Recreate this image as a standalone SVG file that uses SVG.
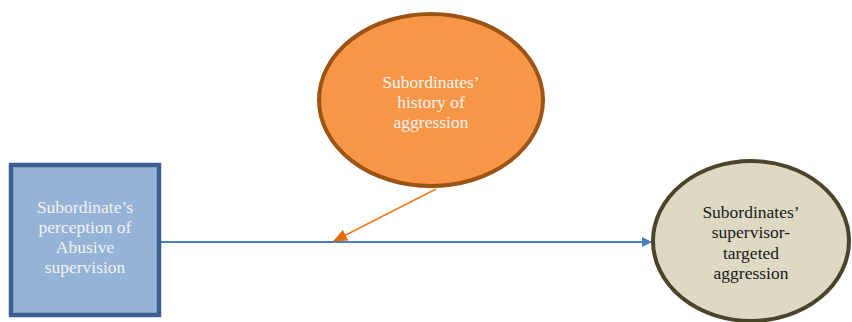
<svg xmlns="http://www.w3.org/2000/svg" width="852" height="322" viewBox="0 0 852 322">
<style>
  text { font-family: "Liberation Serif", "Times New Roman", serif; font-size: 17.5px; text-anchor: middle; }
  .light { fill: #f2f2f2; }
  .dark { fill: #1a1a1a; }
</style>
<defs>
  <marker id="blueArrow" markerWidth="10" markerHeight="10" refX="9" refY="5" orient="auto" markerUnits="userSpaceOnUse" viewBox="0 0 10 10">
    <path d="M0,0 L10,5 L0,10 Z" fill="#4a7ebb"/>
  </marker>
  <marker id="orangeArrow" markerWidth="14" markerHeight="12" refX="13" refY="6" orient="auto" markerUnits="userSpaceOnUse" viewBox="0 0 14 12">
    <path d="M0,0 L14,6 L0,12 Z" fill="#e46c0a"/>
  </marker>
</defs>
<rect width="852" height="322" fill="#ffffff"/>
<g id="connectors">
  <line x1="160" y1="242" x2="651" y2="242" stroke="#4a7ebb" stroke-width="1.8" marker-end="url(#blueArrow)"/>
  <line x1="436" y1="189" x2="334" y2="241" stroke="#ef7f2b" stroke-width="1.8" marker-end="url(#orangeArrow)"/>
</g>
<g id="abusive">
  <rect x="11" y="165" width="148" height="150" fill="#95b3d7" stroke="#3b5f8e" stroke-width="4.5"/>
  <text class="light" x="85" y="213">Subordinate’s</text>
  <text class="light" x="85" y="233">perception of</text>
  <text class="light" x="85" y="253">Abusive</text>
  <text class="light" x="85" y="273">supervision</text>
</g>
<g id="history">
  <ellipse cx="431" cy="100" rx="112" ry="86" fill="#f79646" stroke="#9c5313" stroke-width="4"/>
  <text class="light" x="431" y="88">Subordinates’</text>
  <text class="light" x="431" y="108">history of</text>
  <text class="light" x="431" y="128">aggression</text>
</g>
<g id="aggression">
  <ellipse cx="751" cy="241" rx="98" ry="80" fill="#ddd9c3" stroke="#4a452a" stroke-width="4"/>
  <text class="dark" x="751" y="218">Subordinates’</text>
  <text class="dark" x="751" y="238">supervisor-</text>
  <text class="dark" x="751" y="259">targeted</text>
  <text class="dark" x="751" y="279">aggression</text>
</g>
</svg>
